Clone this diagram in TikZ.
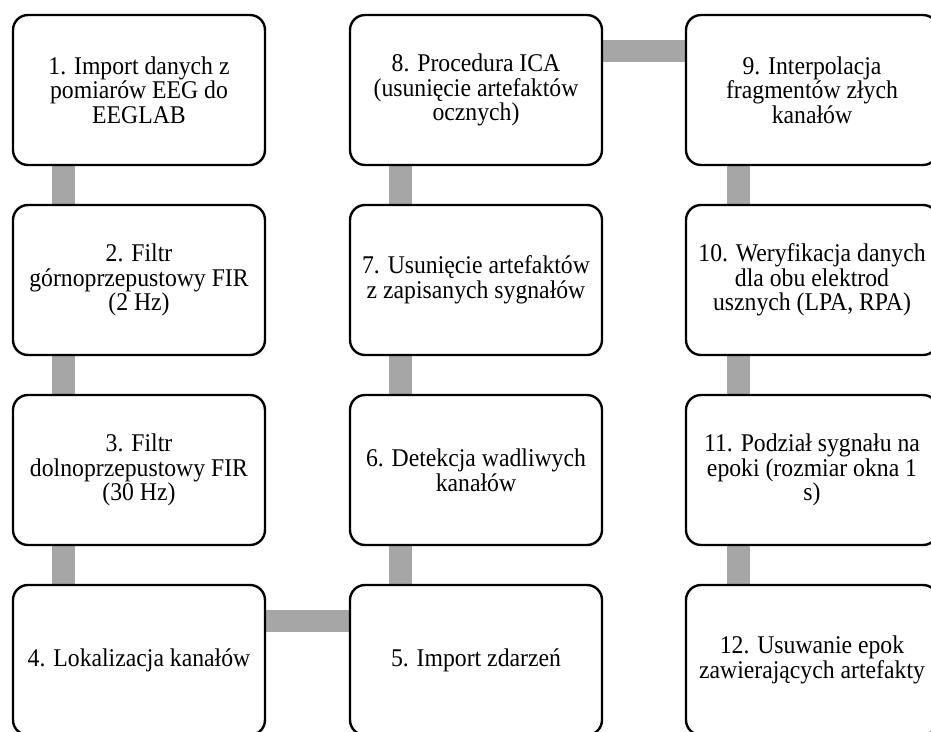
\documentclass[tikz,border=0pt]{standalone}
\usepackage{fontspec}
\setmainfont{Liberation Serif}
\newfontfamily\boxfont[FakeStretch=0.93]{Liberation Serif}
\usetikzlibrary{backgrounds,calc}
\begin{document}
\begin{tikzpicture}[x=1pt,y=-1pt,
  stepbox/.style={draw=black,line width=2.4pt,fill=white,rounded corners=15pt,
    minimum width=252pt,minimum height=150pt,inner sep=0pt,align=center,
    font=\boxfont\fontsize{25.5}{24.6}\selectfont},
  conn/.style={draw=black!35,line width=22.5pt}]
\useasboundingbox (0,0) rectangle (931,731);
\node[stepbox] (b1) at (139,90) {1. Import danych z\\pomiarów EEG do\\EEGLAB};
\node[stepbox] (b2) at (139,280) {2. Filtr\\górnoprzepustowy FIR\\(2 Hz)};
\node[stepbox] (b3) at (139,470) {3. Filtr\\dolnoprzepustowy FIR\\(30 Hz)};
\node[stepbox] (b4) at (139,660) {4. Lokalizacja kanałów};
\node[stepbox] (b5) at (476,660) {5. Import zdarzeń};
\node[stepbox] (b6) at (476,470) {6. Detekcja wadliwych\\kanałów};
\node[stepbox] (b7) at (476,280) {7. Usunięcie artefaktów\\z zapisanych sygnałów};
\node[stepbox] (b8) at (476,90) {8. Procedura ICA\\(usunięcie artefaktów\\ocznych)};
\node[stepbox] (b9) at (812,90) {9. Interpolacja\\fragmentów złych\\kanałów};
\node[stepbox] (b10) at (812,280) {10. Weryfikacja danych\\dla obu elektrod\\usznych (LPA, RPA)};
\node[stepbox] (b11) at (812,470) {11. Podział sygnału na\\epoki (rozmiar okna 1\\s)};
\node[stepbox] (b12) at (812,660) {12. Usuwanie epok\\zawierających artefakty};
\begin{scope}[on background layer]
\draw[conn] ($(b1.south west)+(51.5,0)$) -- ($(b2.north west)+(51.5,0)$);
\draw[conn] ($(b2.south west)+(51.5,0)$) -- ($(b3.north west)+(51.5,0)$);
\draw[conn] ($(b3.south west)+(51.5,0)$) -- ($(b4.north west)+(51.5,0)$);
\draw[conn] ($(b4.north east)+(0,37)$) -- ($(b5.north west)+(0,37)$);
\draw[conn] ($(b5.north west)+(51.5,0)$) -- ($(b6.south west)+(51.5,0)$);
\draw[conn] ($(b6.north west)+(51.5,0)$) -- ($(b7.south west)+(51.5,0)$);
\draw[conn] ($(b7.north west)+(51.5,0)$) -- ($(b8.south west)+(51.5,0)$);
\draw[conn] ($(b8.north east)+(0,37)$) -- ($(b9.north west)+(0,37)$);
\draw[conn] ($(b9.south west)+(53.5,0)$) -- ($(b10.north west)+(53.5,0)$);
\draw[conn] ($(b10.south west)+(53.5,0)$) -- ($(b11.north west)+(53.5,0)$);
\draw[conn] ($(b11.south west)+(53.5,0)$) -- ($(b12.north west)+(53.5,0)$);
\end{scope}
\end{tikzpicture}
\end{document}
